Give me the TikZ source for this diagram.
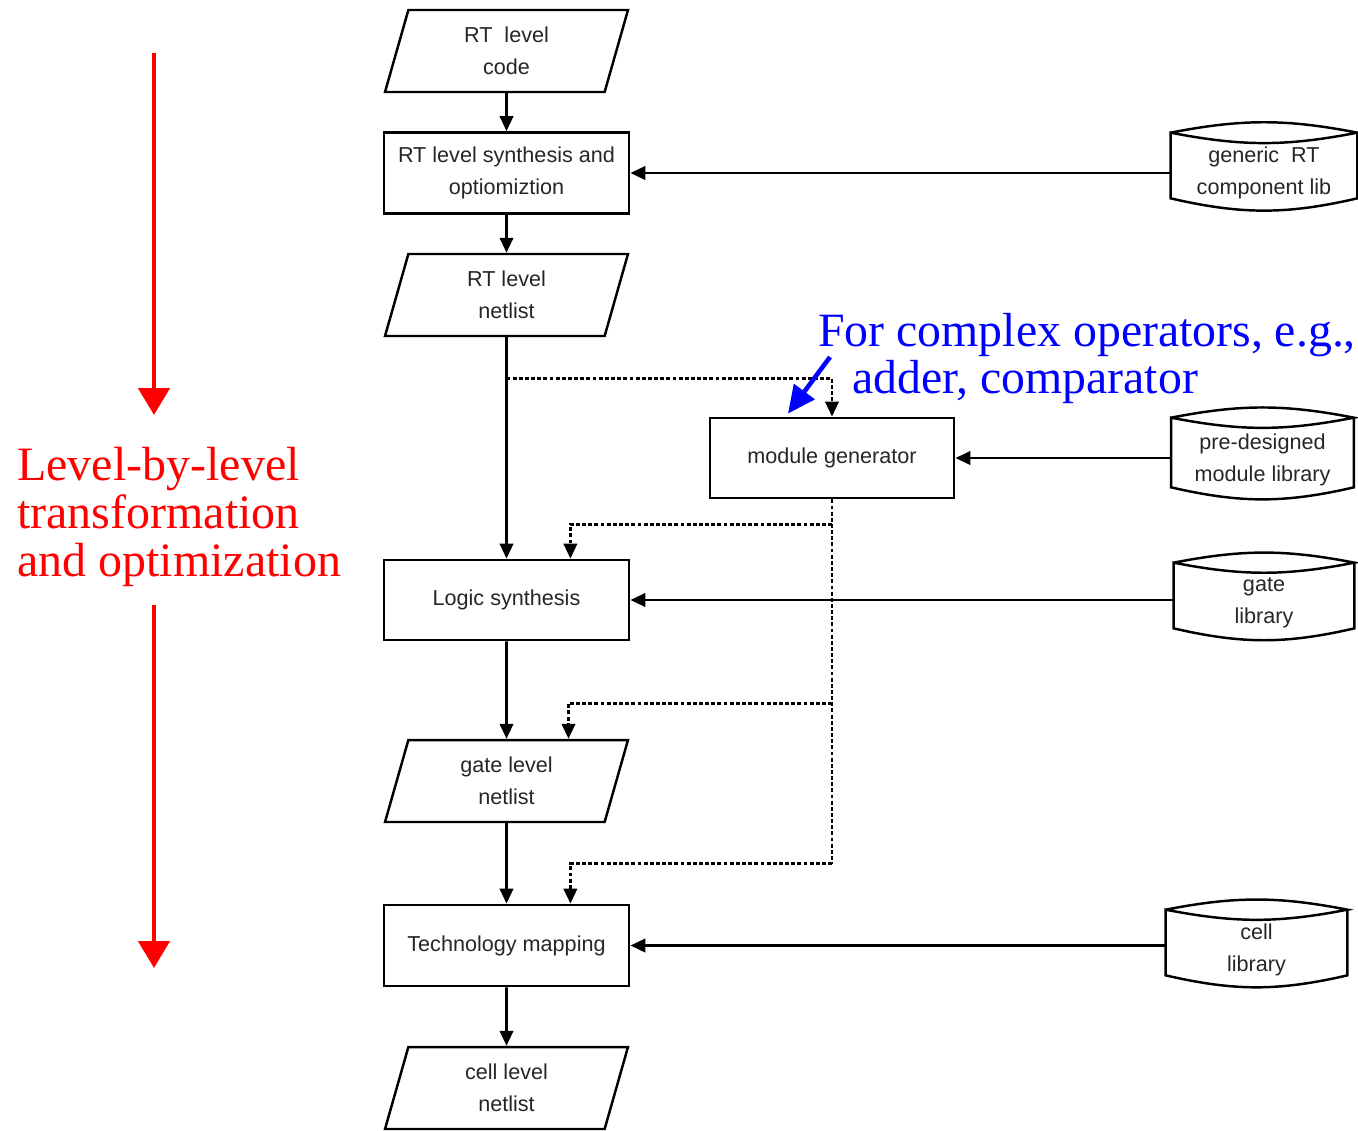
\documentclass[tikz,border=0pt]{standalone}
\usepackage{fontspec}
\setmainfont{Liberation Serif}
\setsansfont{Liberation Sans}
\usetikzlibrary{arrows.meta,calc,shapes.geometric}
\definecolor{notecol}{RGB}{0,0,255}
\definecolor{stepcol}{RGB}{255,0,0}
\begin{document}
\begin{tikzpicture}[x=0.02cm,y=-0.02cm,>={Triangle[width=7.6pt,length=8.5pt]},
  every node/.style={font=\sffamily\fontsize{12.3}{18.2}\selectfont,text=black!85,align=center},
  proc/.style={draw,line width=1.6pt,minimum width=4.9cm,minimum height=1.62cm,inner sep=0pt},
  iodata/.style={draw,line width=1.4pt,trapezium,trapezium left angle=64,trapezium right angle=116,
    trapezium stretches body,minimum width=4.86cm,minimum height=1.64cm,inner sep=0pt},
  libdb/.style={minimum width=3.62cm,minimum height=1.3cm,inner sep=0pt},
  dbline/.style={line width=1.4pt},
  flow/.style={line width=1.5pt,->},
  dotline/.style={line width=1.5pt,dash pattern=on 2.2pt off 1.3pt},
  dotflow/.style={dotline,->},
  bigarrow/.style={line width=2.8pt,-{Triangle[width=0.62cm,length=0.54cm]}}]
\useasboundingbox (0,0) rectangle (1358,1130);
% main flow
\node[iodata] (code) at (506.5,51) {RT\ \ level\\code};
\node[proc] (synth) at (506.5,173) {RT level synthesis and\\optiomiztion};
\node[iodata] (rtnet) at (506.5,295) {RT level\\netlist};
\node[proc,minimum width=4.88cm,minimum height=1.6cm] (modgen) at (832,458) {module generator};
\node[proc,minimum height=1.6cm] (logic) at (506.5,600) {Logic synthesis};
\node[iodata] (gnet) at (506.5,781) {gate level\\netlist};
\node[proc] (techmap) at (506.5,945.5) {Technology mapping};
\node[iodata] (cnet) at (506.5,1088) {cell level\\netlist};
% libraries (text sits a bit below the middle of the drum)
\node[libdb,minimum width=3.72cm] (gen) at (1264,172.5) {generic\ \ RT\\component lib};
\node[libdb,minimum width=3.64cm,minimum height=1.38cm] (pre) at (1262.5,459.5) {pre-designed\\module library};
\node[libdb,minimum width=3.6cm] (gate) at (1264,602.5) {gate\\library};
\node[libdb] (cell) at (1256.5,949.5) {cell\\library};
\foreach \db in {gen,pre,gate,cell}
  \draw[dbline] ($(\db.north west)+(0,-7)$) to[bend left=11] ($(\db.north east)+(0,-7)$)
    to[bend left=11] ($(\db.north west)+(0,-7)$) -- ($(\db.south west)+(0,-7)$)
    to[bend right=13] ($(\db.south east)+(0,-7)$) -- ($(\db.north east)+(0,-7)$);
% remarks
\node[font=\rmfamily\fontsize{27.2}{26.6}\selectfont,text=notecol,align=left,anchor=north west,inner sep=0pt]
  (note) at (818,313) {For complex operators, e.g.,\\\hspace*{0.68cm}adder, comparator};
\node[font=\rmfamily\fontsize{27.3}{27.2}\selectfont,text=stepcol,align=left,anchor=north west,inner sep=0pt]
  (lvl) at (17,447) {Level-by-level\\transformation\\and optimization};
\coordinate (downA) at (154,53);
\coordinate (downB) at (154,605);
\coordinate (notetail) at (830,357);
% arrows
\draw[flow] (code) -- (synth);
\draw[flow] (synth) -- (rtnet);
\draw[flow] (rtnet) -- (logic);
\draw[flow] (logic) -- (gnet);
\draw[flow] (gnet) -- (techmap);
\draw[flow] (techmap) -- (cnet);
\draw[flow] (gen.west |- synth.east) -- (synth.east);
\draw[flow] (pre.west |- modgen.east) -- (modgen.east);
\draw[flow] (gate.west |- logic.east) -- (logic.east);
\draw[flow] (cell.west |- techmap.east) -- (techmap.east);
\draw[dotflow] ($(rtnet.south)+(0,41)$) -| (modgen.north);
\draw[dotline] (modgen.south) -- ($(modgen.south |- techmap.north)+(0,-40)$);
\draw[dotflow] ($(modgen.south)+(0,25)$) -| ($(logic.north east)+(-60,0)$);
\draw[dotflow] ($(modgen.south)+(0,204)$) -| ($(gnet.north)+(62,0)$);
\draw[dotflow] ($(modgen.south |- techmap.north)+(0,-40)$) -| ($(techmap.north east)+(-60,0)$);
\draw[bigarrow,stepcol] (downA) -- ++(0,362);
\draw[bigarrow,stepcol] (downB) -- ++(0,363);
\draw[line width=2.6pt,notecol,-{Triangle[width=0.5cm,length=0.55cm]}] (notetail) -- ($(modgen.north)+(-44,-3)$);
\end{tikzpicture}
\end{document}
